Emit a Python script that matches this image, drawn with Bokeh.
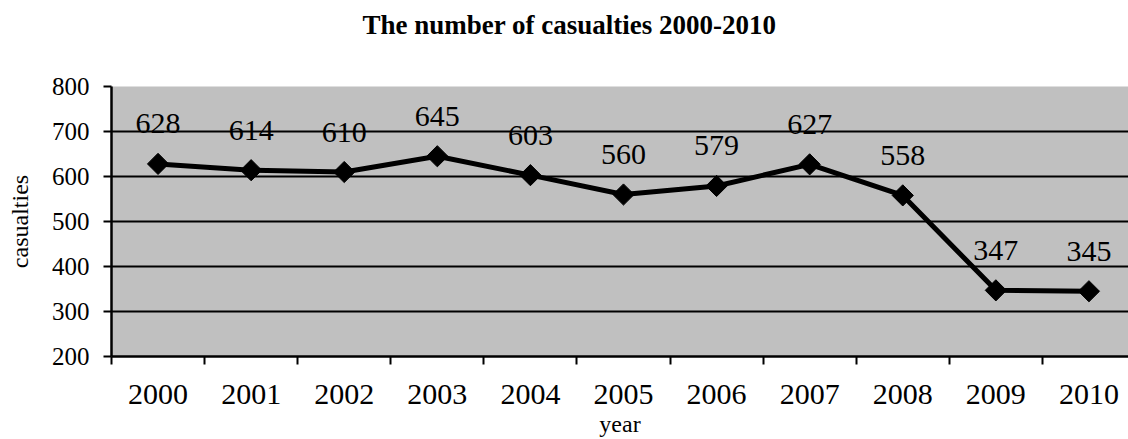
from bokeh.plotting import figure
from bokeh.models import FixedTicker, Range1d, ColumnDataSource, Title
from bokeh.core.properties import value
from bokeh.embed import file_html
from bokeh.resources import INLINE

years = ["2000", "2001", "2002", "2003", "2004", "2005", "2006", "2007", "2008", "2009", "2010"]
casualties = [628, 614, 610, 645, 603, 560, 579, 627, 558, 347, 345]
y_ticks = [200, 300, 400, 500, 600, 700, 800]
title_text = "The number of casualties 2000-2010"

idx = list(range(len(years)))
src = ColumnDataSource(dict(x=idx, y=casualties, lbl=[str(v) for v in casualties]))

SERIF = "'Liberation Serif'"

p = figure(width=1128, height=439, output_backend="svg", toolbar_location=None,
           x_range=Range1d(-0.5, 10.425), y_range=Range1d(200, 800),
           min_border_left=111, min_border_right=0, min_border_top=86, min_border_bottom=82)
p.title = None
# spacer between frame and title
spacer = Title(text=" ", text_font_size="10px", standoff=34, text_color="white")
p.add_layout(spacer, "above")
t = Title(text=title_text, align="left", offset=251, standoff=0,
          text_font=SERIF, text_font_size="27px", text_font_style="bold", text_color="black")
p.add_layout(t, "above")

p.background_fill_color = "#C0C0C0"
p.border_fill_color = "white"
p.outline_line_color = None

# x axis
p.xaxis.ticker = FixedTicker(ticks=idx, minor_ticks=[i - 0.5 for i in range(len(years) + 1)])
p.xaxis.major_label_overrides = {i: y for i, y in zip(idx, years)}
p.xaxis.major_tick_out = 0
p.xaxis.major_tick_in = 0
p.xaxis.minor_tick_out = 8
p.xaxis.minor_tick_in = 0
p.xaxis.minor_tick_line_color = "black"
p.xaxis.minor_tick_line_width = 2
p.xaxis.axis_line_color = "black"
p.xaxis.axis_line_width = 2.5
p.xaxis.major_label_text_font = SERIF
p.xaxis.major_label_text_font_size = "30px"
p.xaxis.major_label_text_color = "black"
p.xaxis.major_label_standoff = 20
p.xaxis.axis_label = "year"
p.xaxis.axis_label_text_font = SERIF
p.xaxis.axis_label_text_font_size = "24px"
p.xaxis.axis_label_text_font_style = "normal"
p.xaxis.axis_label_text_color = "black"
p.xaxis.axis_label_standoff = 4

# y axis
p.yaxis.ticker = FixedTicker(ticks=y_ticks)
p.yaxis.minor_tick_line_color = None
p.yaxis.major_tick_out = 8
p.yaxis.major_tick_in = 0
p.yaxis.major_tick_line_color = "black"
p.yaxis.major_tick_line_width = 2
p.yaxis.axis_line_color = "black"
p.yaxis.axis_line_width = 2.5
p.yaxis.major_label_text_font = SERIF
p.yaxis.major_label_text_font_size = "25px"
p.yaxis.major_label_text_color = "black"
p.yaxis.major_label_standoff = 14
p.yaxis.axis_label = "casualties"
p.yaxis.axis_label_text_font = SERIF
p.yaxis.axis_label_text_font_size = "24px"
p.yaxis.axis_label_text_font_style = "normal"
p.yaxis.axis_label_text_color = "black"
p.yaxis.axis_label_standoff = 16

p.xgrid.grid_line_color = None
p.ygrid.ticker = FixedTicker(ticks=y_ticks)
p.ygrid.grid_line_color = "black"
p.ygrid.grid_line_width = 2

p.line("x", "y", source=src, line_color="black", line_width=5)
p.scatter("x", "y", source=src, marker="square", size=15, angle=0.785398,
          fill_color="black", line_color="black")
p.text("x", "y", text="lbl", source=src, text_font=value(SERIF), text_font_size="30px",
       text_align="center", text_baseline="alphabetic", y_offset=-40, text_color="black")

open("out.html", "w").write(file_html(p, INLINE))
